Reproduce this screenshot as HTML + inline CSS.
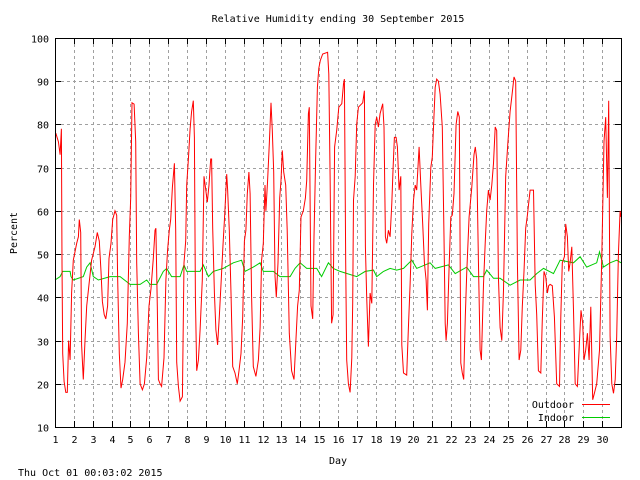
<!DOCTYPE html>
<html><head><meta charset="utf-8"><style>
body{margin:0;background:#fff}
svg{display:block}
text{font-family:"DejaVu Sans Mono","Liberation Mono",monospace;font-size:10px;fill:#000}
</style></head><body>
<svg id="chart" width="640" height="480" xmlns="http://www.w3.org/2000/svg">
<rect width="640" height="480" fill="#fff"/>
<text x="338" y="22" text-anchor="middle">Relative Humidity ending 30 September 2015</text>
<text x="338" y="464" text-anchor="middle">Day</text>
<text x="17" y="233" text-anchor="middle" transform="rotate(-90 17 233)">Percent</text>
<text x="18" y="476">Thu Oct 01 00:03:02 2015</text>
<g id="grid"></g><g id="ticks"></g><g id="series"></g>
<rect x="55.5" y="38.5" width="566" height="389" fill="none" stroke="#000" stroke-width="1"/>
<g>
<text x="574" y="408" text-anchor="end">Outdoor</text>
<line x1="582" y1="404.5" x2="610" y2="404.5" stroke="#f00" stroke-width="1"/>
<text x="574" y="421" text-anchor="end">Indoor</text>
<line x1="582" y1="417.5" x2="610" y2="417.5" stroke="#0c0" stroke-width="1"/>
</g>
</svg>
<script>
const yTicks=[10,20,30,40,50,60,70,80,90,100];
const xTicks=[1,2,3,4,5,6,7,8,9,10,11,12,13,14,15,16,17,18,19,20,21,22,23,24,25,26,27,28,29,30];
const outDays=[1.04,1.18,1.27,1.34,1.37,1.41,1.48,1.57,1.65,1.72,1.80,1.88,1.97,2.15,2.24,2.29,2.36,2.41,2.50,2.59,2.68,2.80,2.94,3.12,3.24,3.35,3.44,3.51,3.61,3.69,3.79,3.86,3.97,4.06,4.18,4.27,4.32,4.41,4.50,4.59,4.71,4.83,4.94,5.01,5.08,5.19,5.28,5.33,5.42,5.51,5.63,5.74,5.86,5.98,6.09,6.21,6.30,6.35,6.42,6.48,6.57,6.65,6.78,6.88,6.97,7.06,7.13,7.22,7.33,7.40,7.45,7.54,7.63,7.75,7.84,7.93,7.98,8.07,8.16,8.24,8.33,8.39,8.44,8.51,8.60,8.69,8.81,8.90,8.99,9.07,9.16,9.25,9.30,9.36,9.45,9.53,9.62,9.71,9.80,9.90,9.99,10.10,10.15,10.24,10.33,10.42,10.54,10.66,10.75,10.86,10.95,11.04,11.12,11.19,11.28,11.34,11.42,11.51,11.65,11.78,11.87,11.95,12.04,12.13,12.18,12.27,12.36,12.45,12.52,12.59,12.66,12.73,12.82,12.91,12.98,13.05,13.12,13.23,13.31,13.42,13.54,13.67,13.77,13.86,13.95,14.04,14.16,14.27,14.34,14.43,14.48,14.57,14.66,14.73,14.82,14.91,14.98,15.06,15.19,15.45,15.51,15.58,15.66,15.74,15.82,15.93,16.04,16.20,16.29,16.34,16.41,16.46,16.55,16.64,16.73,16.78,16.82,16.91,16.99,17.08,17.31,17.40,17.45,17.52,17.61,17.70,17.79,17.88,17.97,18.05,18.14,18.23,18.37,18.44,18.51,18.58,18.67,18.76,18.85,18.92,18.99,19.08,19.15,19.24,19.33,19.38,19.47,19.64,19.73,19.82,19.91,20.00,20.09,20.17,20.30,20.39,20.49,20.58,20.67,20.74,20.81,20.92,21.00,21.06,21.15,21.23,21.32,21.41,21.53,21.62,21.68,21.73,21.80,21.89,21.98,22.06,22.15,22.26,22.35,22.43,22.51,22.59,22.66,22.75,22.82,22.95,23.09,23.21,23.28,23.35,23.44,23.53,23.60,23.71,23.80,23.88,23.97,24.06,24.15,24.24,24.33,24.41,24.50,24.59,24.68,24.77,24.89,25.00,25.12,25.23,25.33,25.42,25.51,25.60,25.69,25.77,25.86,25.95,26.04,26.18,26.36,26.45,26.53,26.62,26.75,26.83,26.92,27.01,27.10,27.17,27.24,27.36,27.47,27.59,27.74,27.81,27.89,28.00,28.07,28.16,28.23,28.30,28.39,28.48,28.57,28.69,28.80,28.88,28.97,29.04,29.13,29.22,29.31,29.40,29.50,29.59,29.71,29.86,29.98,30.10,30.19,30.28,30.35,30.42,30.51,30.60,30.69,30.77,30.86,30.95,31.0];
const outValues=[78,76,73,79,48,27,20.5,18,18,30,25.5,41,48.6,52.5,54,58,55,29,21,30,38,43,48.6,51.7,55,53,46,39,36,35,38,49,52.5,58,60,59,45,27,19,21,25,34,54,63,85,84.7,76,48,31.7,20,18.6,20,26,38,42,49,55.5,56,38,21,20,19.4,26,44,51,55.5,58,65.5,71,55.5,25,19.4,16,17,48,53,66,72,79,83,85.5,77,40,23,25.5,32.5,44,68,65,62,66,72,72,56,41,32.5,29,35.5,43,51.7,58.6,68.5,65,55.5,41,24,22.5,20,23,27,35.5,53,55.5,64,69,64,40,24,21.7,25.5,33,48.6,52.5,66,60,67,75.5,85,78.6,69,45,40,48,63,67,74,69,66,55.5,31.7,23,21,30,38,41.7,58.6,60,63,67,82.5,84,38,35,54,72.5,88.6,93,94.8,96.3,96.7,91.7,68,34,36,74.8,78.6,84,84.8,89.4,90.5,48,25.5,20,18,26,38.6,62.5,68,80,84,85,87.8,51.7,40,28.6,41,38.6,66,80,81.7,79.4,82.5,84.8,79.4,54,52.5,55.5,54,61.7,70,77,77,74.8,64.8,68,29,22.5,22,33,43,54.8,62.5,66,64.8,74.8,66,57,48,44,37,57,70,72.5,79.4,88.6,90.5,90,87,79.4,54,34,30,34,47,58.6,59,64,80,83,81.7,24.8,22.5,21,35.5,45.5,58.6,65.5,73,74.8,72,48.6,27.8,25.5,43,52.5,60,64.8,62.5,66,71,79.4,78.6,44.8,33,30,41.7,68,75.5,83,87,91,90,48,25.5,27.8,37.8,46,56,59,64.8,64.8,43,36,23,22.5,34.8,46,44.8,41,42.7,43,42.7,35.5,20,19.4,35.5,48,49.4,57,54,46,48,51.7,37,20,19.4,30,37,34,25.5,27.8,31.7,25.5,37.8,16.3,17.8,20,27.8,49.4,76,81.7,63,85.5,31,20,17.8,21,31,50,60,58.6];
const inDays=[1.00,1.27,1.41,1.80,1.85,1.97,2.50,2.68,2.86,3.03,3.30,3.92,4.45,4.98,5.51,5.86,6.04,6.39,6.74,6.92,7.18,7.63,7.84,7.98,8.69,8.86,9.13,9.39,9.92,10.45,10.89,11.07,11.51,11.87,12.04,12.57,12.93,13.46,13.72,13.99,14.34,14.87,15.13,15.49,15.75,16.11,16.99,17.44,17.88,18.05,18.41,18.76,19.11,19.47,19.91,20.17,20.88,21.15,21.85,22.21,22.82,23.18,23.71,23.88,24.24,24.59,25.12,25.65,26.18,26.53,26.89,27.42,27.77,28.48,28.83,29.18,29.71,29.86,30.07,30.42,30.77,31.0];
const inValues=[44,44.8,46,46,44.8,44,44.8,47,48,44.8,44,44.8,44.8,43,43,44,43,43,46,46.7,44.8,44.8,47.5,46,46,47.5,44.8,46,46.7,48,48.6,46,47,48,46,46,44.8,44.8,46.7,48,46.7,46.7,44.8,48,46.7,46,44.8,46,46.3,44.8,46,46.7,46.3,46.7,48.6,46.7,48,46.7,47.5,45.5,47,44.8,44.8,46.3,44.4,44.4,42.8,44,44,45.5,46.7,45.5,48.6,48,49.4,47,48,50.5,47,48,48.6,48];

const L=55,R=621,T=38,B=427,X0=1,X1=31,Y0=10,Y1=100;
const xs=d=>L+(d-X0)/(X1-X0)*(R-L);
const ys=v=>B-(v-Y0)/(Y1-Y0)*(B-T);
const NS='http://www.w3.org/2000/svg';
const grid=document.getElementById('grid'),ticks=document.getElementById('ticks'),ser=document.getElementById('series');
function mk(tag,attrs,parent){const e=document.createElementNS(NS,tag);for(const k in attrs)e.setAttribute(k,attrs[k]);parent.appendChild(e);return e;}
yTicks.forEach(v=>{
  const y=Math.round(ys(v))+0.5;
  if(v>Y0&&v<Y1){const g=mk('line',{x1:L,x2:R,y1:y,y2:y,stroke:'#a0a0a0','stroke-dasharray':'3,3','shape-rendering':'crispEdges'},grid);
  
  }
  const t1=mk('line',{x1:L,x2:L+6,y1:y,y2:y,stroke:'#000','shape-rendering':'crispEdges'},ticks);
  
  
  mk('line',{x1:R-6,x2:R,y1:y,y2:y,stroke:'#000','shape-rendering':'crispEdges'},ticks);
  const lb=mk('text',{x:L-6,y:y+4,'text-anchor':'end'},ticks);lb.textContent=v;
  
  
});
xTicks.forEach(d=>{
  const x=Math.round(xs(d))+0.5;
  if(d>X0){const g=mk('line',{x1:x,x2:x,y1:T,y2:B,stroke:'#a0a0a0','stroke-dasharray':'3,3','shape-rendering':'crispEdges'},grid);
  
  }
  const t1=mk('line',{x1:x,x2:x,y1:B-6,y2:B,stroke:'#000','shape-rendering':'crispEdges'},ticks);
  
  
  mk('line',{x1:x,x2:x,y1:T,y2:T+6,stroke:'#000','shape-rendering':'crispEdges'},ticks);
  const lb=mk('text',{x:x,y:B+16,'text-anchor':'middle'},ticks);lb.textContent=d;
  
  
});
function line(days,vals){return days.map((d,i)=>(i?'L':'M')+xs(d).toFixed(1)+' '+ys(vals[i]).toFixed(1)).join(' ');}
const pIn=mk('path',{d:line(inDays,inValues),fill:'none',stroke:'#0c0','stroke-width':1},ser);


const pOut=mk('path',{d:line(outDays,outValues),fill:'none',stroke:'#f00','stroke-width':1},ser);


</script>
</body></html>
